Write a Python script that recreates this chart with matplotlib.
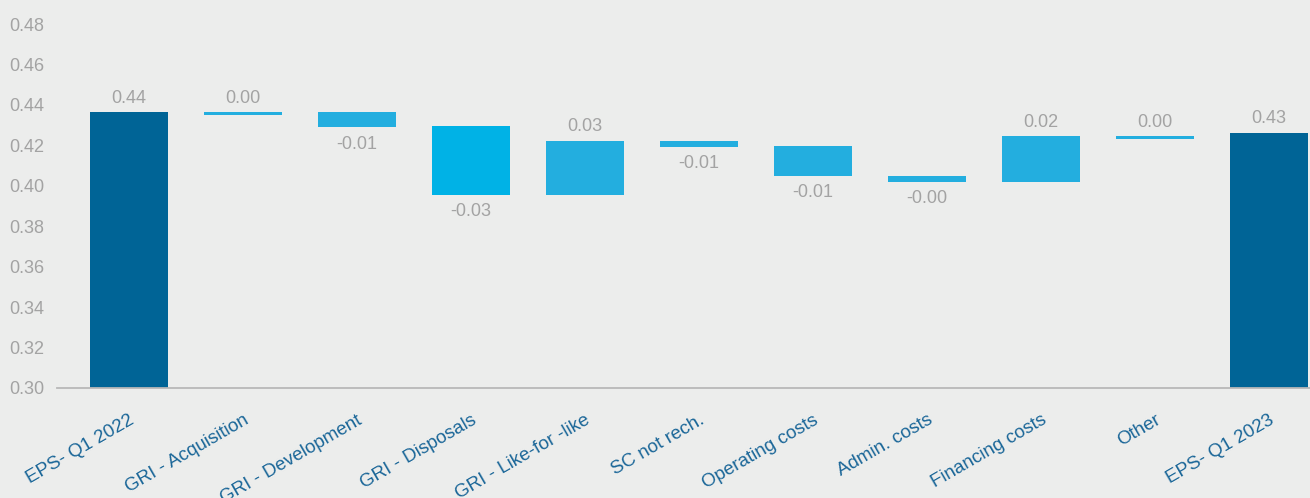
import numpy as np
import matplotlib.pyplot as plt

plt.rcParams['font.family'] = ['Liberation Sans', 'DejaVu Sans']

# EPS bridge Q1 2022 -> Q1 2023 (bar extents)
categories = ['EPS- Q1 2022', 'GRI - Acquisition', 'GRI - Development', 'GRI - Disposals',
              'GRI - Like-for -like', 'SC not rech.', 'Operating costs', 'Admin. costs',
              'Financing costs', 'Other', 'EPS- Q1 2023']
bar_top = [0.4364, 0.4364, 0.4364, 0.4295, 0.4222, 0.4222, 0.4197, 0.4048, 0.4246, 0.4246, 0.4261]
bar_bottom = [0.30, 0.4350, 0.4290, 0.3954, 0.3954, 0.4192, 0.4048, 0.4019, 0.4019, 0.4231, 0.30]
value_labels = ['0.44', '0.00', '-0.01', '-0.03', '0.03', '-0.01', '-0.01', '-0.00', '0.02', '0.00', '0.43']

bg = '#ecedec'
dark = '#006496'
light = '#23aedf'
bright = '#00b2e6'
grey_txt = '#a3a3a3'
blue_txt = '#1a6698'

colors = [dark] + [light] * 9 + [dark]
colors[3] = bright

fig = plt.figure(figsize=(13.1, 4.98), dpi=100, facecolor=bg)
ax = fig.add_axes([0.0435, 0.2209, 0.9565, 0.7791], facecolor=bg)

x = np.arange(len(categories))
heights = np.array(bar_top) - np.array(bar_bottom)
ax.bar(x, heights, bottom=bar_bottom, width=0.68, color=colors, zorder=2)

for i, lab in enumerate(value_labels):
    if lab.startswith('-'):
        ax.annotate(lab, (x[i], bar_bottom[i]), xytext=(0, -6), textcoords='offset points',
                    ha='center', va='top', color=grey_txt, fontsize=13)
    else:
        ax.annotate(lab, (x[i], bar_top[i]), xytext=(0, 4), textcoords='offset points',
                    ha='center', va='bottom', color=grey_txt, fontsize=13)

ax.set_xlim(-0.63, 10.36)
ax.set_ylim(0.30, 0.4919)
ax.set_yticks(np.arange(0.30, 0.481, 0.02))
ax.set_yticklabels([f'{v:.2f}' for v in np.arange(0.30, 0.481, 0.02)])
ax.tick_params(axis='y', length=0, pad=9, labelcolor=grey_txt, labelsize=13)

ax.set_xticks(x)
ax.set_xticklabels(categories, rotation=30, ha='right', rotation_mode='anchor',
                   color=blue_txt, fontsize=13.5)
ax.tick_params(axis='x', length=0, pad=17)

for s in ['top', 'right', 'left']:
    ax.spines[s].set_visible(False)
ax.spines['bottom'].set_color('#b8b8b8')
ax.spines['bottom'].set_linewidth(1.3)

fig.savefig('out.png', dpi=100, facecolor=bg)
